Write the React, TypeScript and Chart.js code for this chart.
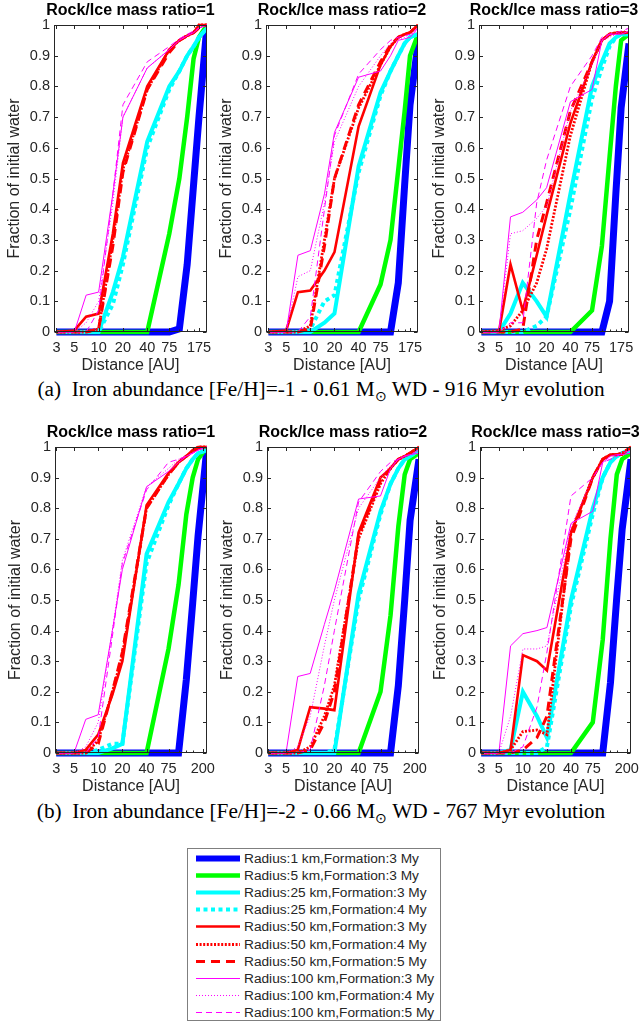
import React, { useEffect, useRef } from "react";
import { Chart, registerables } from "chart.js";
Chart.register(...registerables);

// ---------- data ----------
const X_TOP = [3, 5, 7, 10, 15, 20, 40, 75, 100, 125, 150, 175, 220];
const X_BOT = [3, 5, 7, 10, 15, 20, 40, 75, 100, 125, 150, 175, 226];
const XTICKS_TOP = [3, 5, 10, 20, 40, 75, 175];
const XTICKS_BOT = [3, 5, 10, 20, 40, 75, 200];
const YTICKS = [0, 0.1, 0.2, 0.3, 0.4, 0.5, 0.6, 0.7, 0.8, 0.9, 1];
const PANEL_TITLES = ["Rock/Ice mass ratio=1", "Rock/Ice mass ratio=2", "Rock/Ice mass ratio=3"];
const SERIES_LABELS = [
  "Radius:1 km,Formation:3 My",
  "Radius:5 km,Formation:3 My",
  "Radius:25 km,Formation:3 My",
  "Radius:25 km,Formation:4 My",
  "Radius:50 km,Formation:3 My",
  "Radius:50 km,Formation:4 My",
  "Radius:50 km,Formation:5 My",
  "Radius:100 km,Formation:3 My",
  "Radius:100 km,Formation:4 My",
  "Radius:100 km,Formation:5 My",
];

// (a) [Fe/H]=-1, ratio 1
const A1_R1 = [0, 0, 0, 0, 0, 0, 0, 0, 0.01, 0.22, 0.48, 0.7, 1.0];
const A1_R5 = [0, 0, 0, 0, 0, 0, 0, 0.32, 0.5, 0.7, 0.89, 0.96, 1.0];
const A1_R25_3 = [0, 0, 0, 0, 0.13, 0.245, 0.62, 0.8, 0.85, 0.9, 0.93, 0.96, 0.99];
const A1_R25_4 = [0, 0, 0, 0, 0.09, 0.22, 0.6, 0.79, 0.85, 0.9, 0.93, 0.96, 0.99];
const A1_R50_3 = [0, 0.005, 0.05, 0.06, 0.32, 0.55, 0.8, 0.92, 0.95, 0.965, 0.975, 1.0, 1.0];
const A1_R50_4 = [0, 0, 0, 0.01, 0.3, 0.53, 0.79, 0.92, 0.95, 0.965, 0.975, 1.0, 1.0];
const A1_R50_5 = [0, 0, 0, 0.01, 0.28, 0.52, 0.79, 0.91, 0.95, 0.965, 0.975, 0.99, 1.0];
const A1_R100_3 = [0, 0, 0.12, 0.13, 0.45, 0.7, 0.86, 0.92, 0.95, 0.965, 0.975, 0.99, 1.0];
const A1_R100_4 = [0, 0, 0.03, 0.1, 0.42, 0.7, 0.86, 0.92, 0.95, 0.965, 0.975, 0.99, 1.0];
const A1_R100_5 = [0, 0, 0, 0.07, 0.45, 0.74, 0.88, 0.93, 0.955, 0.97, 0.98, 0.99, 1.0];

// (a) ratio 2
const A2_R1 = [0, 0, 0, 0, 0, 0, 0, 0, 0, 0.16, 0.48, 0.74, 0.94];
const A2_R5 = [0, 0, 0, 0, 0, 0, 0, 0.155, 0.3, 0.53, 0.72, 0.9, 0.97];
const A2_R25_3 = [0, 0, 0, 0, 0.03, 0.06, 0.54, 0.78, 0.85, 0.9, 0.94, 0.96, 0.97];
const A2_R25_4 = [0, 0, 0, 0.01, 0.1, 0.12, 0.52, 0.77, 0.85, 0.9, 0.94, 0.96, 0.97];
const A2_R50_3 = [0, 0.005, 0.13, 0.135, 0.2, 0.26, 0.67, 0.87, 0.93, 0.96, 0.97, 0.975, 1.0];
const A2_R50_4 = [0, 0, 0, 0.02, 0.3, 0.5, 0.73, 0.87, 0.93, 0.96, 0.97, 0.975, 1.0];
const A2_R50_5 = [0, 0, 0, 0.01, 0.28, 0.5, 0.74, 0.88, 0.935, 0.96, 0.97, 0.975, 1.0];
const A2_R100_3 = [0, 0, 0.25, 0.265, 0.45, 0.65, 0.83, 0.85, 0.9, 0.95, 0.955, 0.96, 0.99];
const A2_R100_4 = [0, 0, 0.18, 0.2, 0.42, 0.62, 0.8, 0.9, 0.94, 0.955, 0.96, 0.97, 0.98];
const A2_R100_5 = [0, 0, 0, 0.05, 0.4, 0.64, 0.84, 0.92, 0.95, 0.96, 0.965, 0.97, 0.99];

// (a) ratio 3
const A3_R1 = [0, 0, 0, 0, 0, 0, 0, 0, 0, 0.1, 0.45, 0.73, 0.94];
const A3_R5 = [0, 0, 0, 0, 0, 0, 0, 0.07, 0.28, 0.57, 0.8, 0.95, 0.97];
const A3_R25_3 = [0, 0, 0.06, 0.16, 0.1, 0.05, 0.45, 0.8, 0.88, 0.94, 0.96, 0.97, 0.97];
const A3_R25_4 = [0, 0, 0, 0, 0.02, 0.05, 0.4, 0.76, 0.86, 0.93, 0.96, 0.97, 0.97];
const A3_R50_3 = [0, 0, 0.22, 0.07, 0.25, 0.38, 0.68, 0.88, 0.95, 0.97, 0.975, 0.975, 0.975];
const A3_R50_4 = [0, 0.005, 0.02, 0.07, 0.16, 0.27, 0.64, 0.88, 0.95, 0.97, 0.975, 0.975, 0.975];
const A3_R50_5 = [0, 0, 0, 0.01, 0.3, 0.42, 0.72, 0.88, 0.95, 0.97, 0.975, 0.975, 0.975];
const A3_R100_3 = [0, 0, 0.375, 0.39, 0.43, 0.47, 0.75, 0.79, 0.95, 0.97, 0.97, 0.97, 0.98];
const A3_R100_4 = [0, 0, 0.32, 0.33, 0.37, 0.41, 0.72, 0.87, 0.95, 0.96, 0.97, 0.975, 0.99];
const A3_R100_5 = [0, 0, 0.03, 0.03, 0.42, 0.56, 0.8, 0.9, 0.96, 0.97, 0.975, 0.98, 0.99];

// (b) [Fe/H]=-2, ratio 1
const B1_R1 = [0, 0, 0, 0, 0, 0, 0, 0, 0, 0.24, 0.49, 0.71, 1.0];
const B1_R5 = [0, 0, 0, 0, 0, 0, 0, 0.34, 0.55, 0.78, 0.9, 0.96, 1.0];
const B1_R25_3 = [0, 0, 0, 0, 0.015, 0.03, 0.65, 0.82, 0.88, 0.93, 0.96, 0.98, 0.99];
const B1_R25_4 = [0, 0, 0, 0.01, 0.03, 0.03, 0.62, 0.81, 0.88, 0.93, 0.96, 0.98, 0.99];
const B1_R50_3 = [0, 0, 0.01, 0.06, 0.19, 0.3, 0.81, 0.915, 0.95, 0.97, 0.99, 1.0, 1.0];
const B1_R50_4 = [0, 0, 0, 0.04, 0.2, 0.32, 0.8, 0.91, 0.95, 0.97, 0.985, 1.0, 1.0];
const B1_R50_5 = [0, 0, 0, 0.03, 0.2, 0.33, 0.8, 0.91, 0.95, 0.97, 0.985, 0.995, 1.0];
const B1_R100_3 = [0, 0, 0.11, 0.125, 0.4, 0.6, 0.87, 0.92, 0.95, 0.97, 0.98, 0.99, 1.0];
const B1_R100_4 = [0, 0, 0.02, 0.1, 0.4, 0.63, 0.87, 0.93, 0.96, 0.97, 0.98, 0.99, 1.0];
const B1_R100_5 = [0, 0, 0, 0.05, 0.38, 0.62, 0.86, 0.95, 0.96, 0.97, 0.98, 0.99, 1.0];

// (b) ratio 2
const B2_R1 = [0, 0, 0, 0, 0, 0, 0, 0, 0, 0.22, 0.5, 0.76, 0.96];
const B2_R5 = [0, 0, 0, 0, 0, 0, 0, 0.2, 0.45, 0.74, 0.91, 0.96, 0.98];
const B2_R25_3 = [0, 0, 0, 0, 0, 0, 0.52, 0.79, 0.88, 0.93, 0.96, 0.97, 0.99];
const B2_R25_4 = [0, 0, 0, 0, 0, 0.01, 0.5, 0.78, 0.88, 0.93, 0.96, 0.97, 0.99];
const B2_R50_3 = [0, 0, 0.01, 0.15, 0.145, 0.14, 0.72, 0.9, 0.93, 0.96, 0.97, 0.98, 1.0];
const B2_R50_4 = [0, 0, 0, 0.02, 0.12, 0.22, 0.7, 0.88, 0.93, 0.96, 0.97, 0.98, 1.0];
const B2_R50_5 = [0, 0, 0, 0.01, 0.1, 0.2, 0.71, 0.89, 0.93, 0.96, 0.97, 0.98, 1.0];
const B2_R100_3 = [0, 0, 0.25, 0.26, 0.42, 0.53, 0.83, 0.84, 0.93, 0.96, 0.97, 0.975, 0.98];
const B2_R100_4 = [0, 0, 0.02, 0.12, 0.35, 0.5, 0.8, 0.9, 0.94, 0.96, 0.97, 0.975, 0.99];
const B2_R100_5 = [0, 0, 0, 0.01, 0.22, 0.4, 0.82, 0.92, 0.95, 0.96, 0.97, 0.975, 0.99];

// (b) ratio 3
const B3_R1 = [0, 0, 0, 0, 0, 0, 0, 0, 0, 0.23, 0.51, 0.73, 0.96];
const B3_R5 = [0, 0, 0, 0, 0, 0, 0, 0.1, 0.37, 0.7, 0.91, 0.96, 0.98];
const B3_R25_3 = [0, 0, 0.01, 0.2, 0.12, 0.05, 0.5, 0.8, 0.9, 0.95, 0.97, 0.98, 0.99];
const B3_R25_4 = [0, 0, 0, 0, 0, 0.02, 0.48, 0.78, 0.9, 0.95, 0.97, 0.98, 0.99];
const B3_R50_3 = [0, 0, 0.01, 0.32, 0.3, 0.27, 0.72, 0.9, 0.96, 0.975, 0.975, 0.975, 1.0];
const B3_R50_4 = [0, 0, 0.01, 0.07, 0.075, 0.06, 0.72, 0.9, 0.96, 0.975, 0.975, 0.98, 1.0];
const B3_R50_5 = [0, 0, 0, 0.01, 0.05, 0.12, 0.7, 0.9, 0.96, 0.975, 0.975, 0.98, 1.0];
const B3_R100_3 = [0, 0, 0.35, 0.39, 0.4, 0.41, 0.75, 0.79, 0.95, 0.97, 0.975, 0.975, 0.98];
const B3_R100_4 = [0, 0, 0.12, 0.34, 0.34, 0.35, 0.74, 0.9, 0.95, 0.96, 0.97, 0.98, 0.99];
const B3_R100_5 = [0, 0, 0, 0.02, 0.15, 0.33, 0.84, 0.9, 0.95, 0.96, 0.97, 0.98, 0.99];

// ---------- styles ----------
const STYLES = [
  { color: "#0000ff", width: 7, dash: [] as number[] },
  { color: "#00ff00", width: 4.5, dash: [] as number[] },
  { color: "#00ffff", width: 4, dash: [] as number[] },
  { color: "#00ffff", width: 4, dash: [4, 3.5] },
  { color: "#ff0000", width: 2.6, dash: [] as number[] },
  { color: "#ff0000", width: 2.8, dash: [2, 1.6] },
  { color: "#ff0000", width: 3, dash: [9, 6] },
  { color: "#ff00ff", width: 1, dash: [] as number[] },
  { color: "#ff00ff", width: 1, dash: [1, 2] },
  { color: "#ff00ff", width: 1, dash: [6, 4] },
];

const FONT = "'Liberation Sans', Arial, Helvetica, sans-serif";
const AXIS_COLOR = "#262626";

const boxPlugin = {
  id: "matlabBox",
  afterDraw(chart: any, _args: any, opts: any) {
    const { ctx, chartArea: a, scales } = chart;
    ctx.save();
    // panel title, centred over the plot box (no width squeezing)
    ctx.fillStyle = "#000";
    ctx.font = `bold ${opts.titleSize}px ${FONT}`;
    ctx.textAlign = "center";
    ctx.textBaseline = "middle";
    ctx.fillText(opts.title, (a.left + a.right) / 2, opts.titleY);

    ctx.strokeStyle = AXIS_COLOR;
    ctx.lineWidth = 1;
    const l = Math.round(a.left) + 0.5;
    const r = Math.round(a.right) - 0.5;
    const t = Math.round(a.top) + 0.5;
    const b = Math.round(a.bottom) - 0.5;
    ctx.strokeRect(l, t, r - l, b - t);
    ctx.beginPath();
    const tl = 3.5;
    const xs: number[] = [...opts.xticks, ...opts.xminor];
    xs.forEach((v: number, i: number) => {
      const len = i < opts.xticks.length ? tl : 2;
      const px = Math.round(scales.x.getPixelForValue(v)) + 0.5;
      ctx.moveTo(px, b);
      ctx.lineTo(px, b - len);
      ctx.moveTo(px, t);
      ctx.lineTo(px, t + len);
    });
    YTICKS.forEach((v) => {
      const py = Math.round(scales.y.getPixelForValue(v)) + 0.5;
      ctx.moveTo(l, py);
      ctx.lineTo(l + tl, py);
      ctx.moveTo(r, py);
      ctx.lineTo(r - tl, py);
    });
    ctx.stroke();
    ctx.restore();
  },
};

type PanelProps = {
  xs: number[];
  series: number[][];
  xticks: number[];
  xmin: number;
  xmax: number;
  title: string;
  L: number;
  R: number;
  T: number;
  B: number;
};

const YW = 54;
const TH = 25;
const XH = 45;
const RP = 16;

function Panel(p: PanelProps) {
  const ref = useRef<HTMLCanvasElement>(null);
  const width = p.R - p.L + YW + RP;
  const height = p.B - p.T + TH + XH;
  useEffect(() => {
    const datasets = p.series.map((ys, i) => ({
      label: SERIES_LABELS[i],
      data: p.xs.map((x, j) => ({ x, y: ys[j] })),
      borderColor: STYLES[i].color,
      backgroundColor: STYLES[i].color,
      borderWidth: STYLES[i].width,
      borderDash: STYLES[i].dash,
      borderCapStyle: "butt" as const,
      borderJoinStyle: "miter" as const,
      pointRadius: 0,
      tension: 0,
      fill: false,
      order: 10 - i,
      clip: { left: 0, right: 0, top: 3, bottom: 4 },
    }));
    const chart = new Chart(ref.current!, {
      type: "line",
      data: { datasets },
      plugins: [boxPlugin],
      options: {
        animation: false,
        responsive: false,
        events: [],
        layout: { padding: { left: 0, right: RP, top: TH, bottom: 0 } },
        plugins: {
          legend: { display: false },
          tooltip: { enabled: false },
          title: { display: false },
          matlabBox: { xticks: p.xticks, xminor: [100, 125, 150], title: p.title, titleSize: 16, titleY: 10.5 },
        } as any,
        scales: {
          x: {
            type: "logarithmic",
            min: p.xmin,
            max: p.xmax,
            afterBuildTicks: (s: any) => {
              s.ticks = p.xticks.map((v) => ({ value: v }));
            },
            afterFit: (s: any) => {
              s.height = XH;
            },
            ticks: {
              autoSkip: false,
              maxRotation: 0,
              minRotation: 0,
              padding: 7,
              color: AXIS_COLOR,
              font: { family: FONT, size: 14.5 },
              callback: (v: any) => String(v),
            },
            grid: { display: false, drawTicks: false },
            border: { display: false },
            title: {
              display: true,
              text: "Distance [AU]",
              color: AXIS_COLOR,
              font: { family: FONT, size: 16 },
              padding: { top: 0, bottom: 2 },
            },
          },
          y: {
            type: "linear",
            min: 0,
            max: 1,
            afterBuildTicks: (s: any) => {
              s.ticks = YTICKS.map((v) => ({ value: v }));
            },
            afterFit: (s: any) => {
              s.width = YW;
            },
            ticks: {
              padding: 4,
              color: AXIS_COLOR,
              font: { family: FONT, size: 14.5 },
              callback: (v: any) => String(Math.round(Number(v) * 10) / 10),
            },
            grid: { display: false, drawTicks: false },
            border: { display: false },
            title: {
              display: true,
              text: "Fraction of initial water",
              color: AXIS_COLOR,
              font: { family: FONT, size: 16 },
              padding: { top: 5, bottom: 0 },
            },
          },
        },
      } as any,
    });
    return () => chart.destroy();
  }, []);
  return (
    <canvas
      ref={ref}
      width={width}
      height={height}
      style={{ position: "absolute", left: p.L - YW, top: p.T - TH, width, height }}
    />
  );
}

const TOP_SERIES = [
  [A1_R1, A1_R5, A1_R25_3, A1_R25_4, A1_R50_3, A1_R50_4, A1_R50_5, A1_R100_3, A1_R100_4, A1_R100_5],
  [A2_R1, A2_R5, A2_R25_3, A2_R25_4, A2_R50_3, A2_R50_4, A2_R50_5, A2_R100_3, A2_R100_4, A2_R100_5],
  [A3_R1, A3_R5, A3_R25_3, A3_R25_4, A3_R50_3, A3_R50_4, A3_R50_5, A3_R100_3, A3_R100_4, A3_R100_5],
];
const BOT_SERIES = [
  [B1_R1, B1_R5, B1_R25_3, B1_R25_4, B1_R50_3, B1_R50_4, B1_R50_5, B1_R100_3, B1_R100_4, B1_R100_5],
  [B2_R1, B2_R5, B2_R25_3, B2_R25_4, B2_R50_3, B2_R50_4, B2_R50_5, B2_R100_3, B2_R100_4, B2_R100_5],
  [B3_R1, B3_R5, B3_R25_3, B3_R25_4, B3_R50_3, B3_R50_4, B3_R50_5, B3_R100_3, B3_R100_4, B3_R100_5],
];

const TOP_BOX = [
  { L: 54, R: 207 },
  { L: 266, R: 418 },
  { L: 479, R: 629 },
];
const BOT_BOX = [
  { L: 55, R: 207 },
  { L: 267, R: 419 },
  { L: 480, R: 631 },
];

const captionStyle: React.CSSProperties = {
  position: "absolute",
  left: 0,
  width: 642,
  textAlign: "center",
  fontFamily: "'Liberation Serif', 'Times New Roman', serif",
  fontSize: 21.3,
  lineHeight: "24px",
  color: "#000",
  whiteSpace: "nowrap",
};

export default function App() {
  return (
    <div style={{ position: "absolute", left: 0, top: 0, width: 642, height: 1023, background: "#fff", overflow: "hidden" }}>
      {TOP_BOX.map((b, i) => (
        <Panel key={"t" + i} xs={X_TOP} series={TOP_SERIES[i]} xticks={XTICKS_TOP} xmin={2.8} xmax={220}
          title={PANEL_TITLES[i]} L={b.L} R={b.R} T={25} B={332} />
      ))}
      <div style={{ ...captionStyle, top: 377 }}>
        (a)&nbsp; Iron abundance [Fe/H]=-1 - 0.61 M<sub style={{ fontSize: 14, lineHeight: 0 }}>⊙</sub> WD - 916 Myr evolution
      </div>
      {BOT_BOX.map((b, i) => (
        <Panel key={"b" + i} xs={X_BOT} series={BOT_SERIES[i]} xticks={XTICKS_BOT} xmin={2.9} xmax={226}
          title={PANEL_TITLES[i]} L={b.L} R={b.R} T={447} B={753} />
      ))}
      <div style={{ ...captionStyle, top: 799 }}>
        (b)&nbsp; Iron abundance [Fe/H]=-2 - 0.66 M<sub style={{ fontSize: 14, lineHeight: 0 }}>⊙</sub> WD - 767 Myr evolution
      </div>
      <div
        style={{
          position: "absolute",
          left: 187,
          top: 848,
          width: 254,
          height: 173,
          boxSizing: "border-box",
          border: "1px solid #7f7f7f",
          background: "#fff",
          fontFamily: FONT,
          fontSize: 13.7,
          color: AXIS_COLOR,
        }}
      >
        {SERIES_LABELS.map((lab, i) => (
          <div key={i} style={{ position: "absolute", left: 0, top: 0.5 + i * 17.2, height: 17, display: "flex", alignItems: "center", whiteSpace: "nowrap" }}>
            <svg width={56} height={17} style={{ display: "block" }}>
              <line x1={8} x2={52} y1={8.5} y2={8.5} stroke={STYLES[i].color}
                strokeWidth={Math.min(STYLES[i].width, 6)} strokeDasharray={STYLES[i].dash.join(" ")} />
            </svg>
            <span>{lab}</span>
          </div>
        ))}
      </div>
    </div>
  );
}
